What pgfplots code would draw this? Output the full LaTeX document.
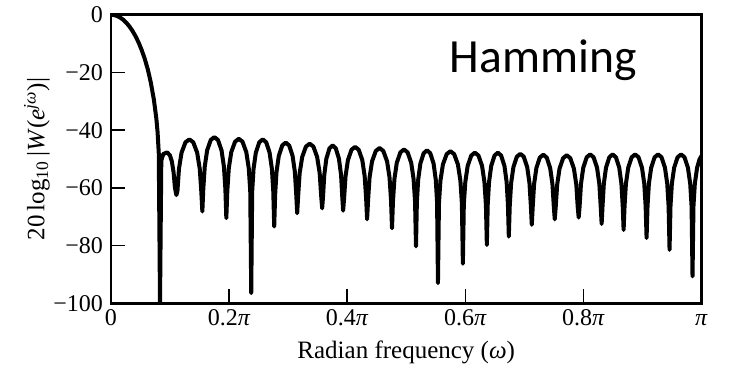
\documentclass[border=0pt]{standalone}
\usepackage{fontspec}
\setmainfont{Liberation Serif}
\newfontfamily\calibri{Carlito}
\usepackage{pgfplots}
\usepackage{pgfplotstable}
\pgfplotsset{compat=1.18}

% Log-magnitude response of the Hamming window, w = omega/pi, magnitude in dB
\pgfplotstableread{
w db
0 0
0.0052 -0.11
0.0104 -0.43
0.0156 -0.98
0.0208 -1.75
0.0259 -2.76
0.0311 -4.03
0.0363 -5.57
0.0415 -7.40
0.0467 -9.60
0.0519 -12.20
0.0571 -15.24
0.0623 -18.90
0.0674 -23.46
0.0726 -29.40
0.0768 -35.97
0.0789 -40.70
0.0809 -48.00
0.0830 -100
0.0852 -50.5
0.0885 -48.3
0.0950 -47.7
0.0997 -48.7
0.1029 -50.7
0.1060 -54.6
0.1082 -59.8
0.1107 -62.5
0.1125 -61.2
0.1151 -53.4
0.1195 -47.8
0.1261 -44.2
0.1327 -43.2
0.1393 -44.2
0.1459 -47.8
0.1503 -53.4
0.1529 -61.2
0.1547 -68.2
0.1563 -60.4
0.1588 -52.6
0.1628 -47.0
0.1689 -43.4
0.1750 -42.4
0.1811 -43.4
0.1872 -47.0
0.1912 -52.6
0.1937 -60.4
0.1953 -70.5
0.1970 -61.0
0.1995 -53.2
0.2037 -47.6
0.2101 -44.0
0.2164 -43.0
0.2227 -44.0
0.2291 -47.6
0.2333 -53.2
0.2358 -61.0
0.2375 -96.5
0.2391 -61.2
0.2414 -53.4
0.2453 -47.8
0.2511 -44.2
0.2570 -43.2
0.2628 -44.2
0.2686 -47.8
0.2725 -53.4
0.2748 -61.2
0.2764 -73.4
0.2780 -62.3
0.2803 -54.5
0.2842 -48.9
0.2900 -45.3
0.2959 -44.3
0.3017 -45.3
0.3075 -48.9
0.3114 -54.5
0.3137 -62.3
0.3153 -68.8
0.3170 -62.7
0.3195 -54.9
0.3238 -49.3
0.3301 -45.7
0.3365 -44.7
0.3428 -45.7
0.3491 -49.3
0.3534 -54.9
0.3559 -62.7
0.3576 -67.1
0.3590 -63.3
0.3612 -55.5
0.3647 -49.9
0.3700 -46.3
0.3754 -45.3
0.3807 -46.3
0.3860 -49.9
0.3896 -55.5
0.3917 -63.3
0.3931 -67.9
0.3947 -63.8
0.3972 -56.0
0.4012 -50.4
0.4073 -46.8
0.4134 -45.8
0.4195 -46.8
0.4256 -50.4
0.4296 -56.0
0.4321 -63.8
0.4337 -70.9
0.4354 -64.2
0.4379 -56.4
0.4421 -50.8
0.4485 -47.2
0.4548 -46.2
0.4611 -47.2
0.4675 -50.8
0.4717 -56.4
0.4742 -64.2
0.4759 -74.0
0.4775 -64.7
0.4800 -56.9
0.4840 -51.3
0.4901 -47.7
0.4962 -46.7
0.5023 -47.7
0.5084 -51.3
0.5124 -56.9
0.5149 -64.7
0.5165 -80.3
0.5180 -65.0
0.5202 -57.2
0.5239 -51.6
0.5295 -48.0
0.5351 -47.0
0.5407 -48.0
0.5463 -51.6
0.5500 -57.2
0.5522 -65.0
0.5537 -93.0
0.5554 -65.3
0.5579 -57.5
0.5621 -51.9
0.5685 -48.3
0.5748 -47.3
0.5811 -48.3
0.5875 -51.9
0.5917 -57.5
0.5942 -65.3
0.5959 -86.3
0.5975 -65.8
0.6000 -58.0
0.6040 -52.4
0.6101 -48.8
0.6162 -47.8
0.6223 -48.8
0.6284 -52.4
0.6324 -58.0
0.6349 -65.8
0.6365 -79.8
0.6380 -65.8
0.6402 -58.0
0.6439 -52.4
0.6495 -48.8
0.6551 -47.8
0.6607 -48.8
0.6663 -52.4
0.6700 -58.0
0.6722 -65.8
0.6737 -76.9
0.6753 -66.2
0.6776 -58.4
0.6815 -52.8
0.6873 -49.2
0.6932 -48.2
0.6990 -49.2
0.7048 -52.8
0.7087 -58.4
0.7110 -66.2
0.7126 -72.8
0.7142 -66.5
0.7165 -58.7
0.7204 -53.1
0.7262 -49.5
0.7321 -48.5
0.7379 -49.5
0.7437 -53.1
0.7476 -58.7
0.7499 -66.5
0.7515 -70.9
0.7531 -66.7
0.7556 -58.9
0.7596 -53.3
0.7657 -49.7
0.7718 -48.7
0.7778 -49.7
0.7839 -53.3
0.7880 -58.9
0.7904 -66.7
0.7920 -70.3
0.7936 -66.4
0.7959 -58.6
0.7998 -53.0
0.8056 -49.4
0.8115 -48.4
0.8173 -49.4
0.8231 -53.0
0.8270 -58.6
0.8293 -66.4
0.8309 -72.5
0.8324 -66.4
0.8346 -58.6
0.8383 -53.0
0.8439 -49.4
0.8495 -48.4
0.8551 -49.4
0.8607 -53.0
0.8644 -58.6
0.8666 -66.4
0.8681 -74.6
0.8697 -66.4
0.8720 -58.6
0.8759 -53.0
0.8817 -49.4
0.8876 -48.4
0.8934 -49.4
0.8992 -53.0
0.9031 -58.6
0.9054 -66.4
0.9070 -77.4
0.9086 -66.4
0.9109 -58.6
0.9148 -53.0
0.9206 -49.4
0.9265 -48.4
0.9323 -49.4
0.9381 -53.0
0.9420 -58.6
0.9443 -66.4
0.9459 -81.5
0.9475 -66.4
0.9498 -58.6
0.9537 -53.0
0.9595 -49.4
0.9654 -48.4
0.9712 -49.4
0.9770 -53.0
0.9809 -58.6
0.9832 -66.4
0.9848 -90.7
0.9864 -66.4
0.9887 -58.6
0.9926 -53.0
0.9965 -50.2
1.0 -48.9
}\hammingdB

\begin{document}
\begin{tikzpicture}
\begin{axis}[
  name=ax,
  scale only axis,
  width=295.25pt, height=144.25pt,
  xmin=0, xmax=1, ymin=-100, ymax=0,
  axis line style={line width=1.3pt},
  tick align=inside,
  major tick length=7pt,
  every tick/.style={black, line width=0.7pt},
  xtick pos=bottom, ytick pos=left,
  xtick={0,0.2,0.4,0.6,0.8,1},
  xticklabels={0, 0.2\textit{π}, 0.4\textit{π}, 0.6\textit{π}, 0.8\textit{π}, \textit{π}},
  ytick={-100,-80,-60,-40,-20,0},
  yticklabels={−100, −80, −60, −40, −20, 0},
  tick label style={font=\fontsize{12}{14}\selectfont},
  xticklabel style={yshift=-1pt, text height=0.68em, text depth=0.2em},
  yticklabel style={xshift=-0.5pt},
  xlabel={Radian frequency (\textit{ω})},
  ylabel={20\,log\textsubscript{10}\,|\textit{W}(\textit{e}\textsuperscript{\textit{jω}})|},
  label style={font=\fontsize{12.5}{15}\selectfont},
  xlabel style={at={(axis description cs:0.5,-0.17)}, anchor=center},
  ylabel style={at={(axis description cs:-0.1253,0.5)}, anchor=center},
]
\addplot[black, line width=2pt, line join=round] table[x=w, y=db] {\hammingdB};
\node[anchor=base west, inner sep=0pt, font=\calibri\fontsize{23.8}{28}\selectfont]
  at (axis cs:0.5732,-19.9) {Hamming};
\end{axis}
\path ([shift={(-55.5pt,-32.5pt)}]ax.south west) rectangle ([shift={(14.25pt,7.25pt)}]ax.north east);
\end{tikzpicture}
\end{document}
